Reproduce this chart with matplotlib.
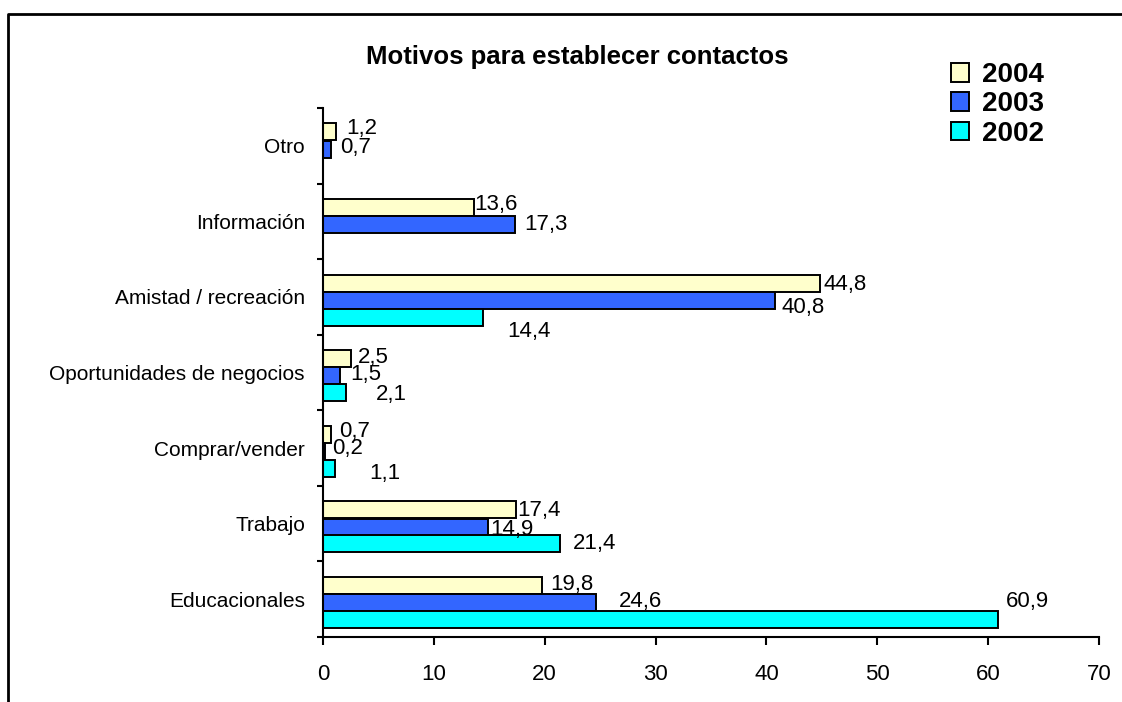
import numpy as np
import matplotlib
matplotlib.use('Agg')
import matplotlib.pyplot as plt
from matplotlib.lines import Line2D

plt.rcParams['font.family'] = ['Liberation Sans', 'DejaVu Sans']

# data (bottom to top, as drawn)
categories = ['Educacionales', 'Trabajo', 'Comprar/vender',
              'Oportunidades de negocios', 'Amistad / recreación',
              'Información', 'Otro']
years = ['2004', '2003', '2002']
v2004 = [19.8, 17.4, 0.7, 2.5, 44.8, 13.6, 1.2]
v2003 = [24.6, 14.9, 0.2, 1.5, 40.8, 17.3, 0.7]
v2002 = [60.9, 21.4, 1.1, 2.1, 14.4, None, None]
xticks = [0, 10, 20, 30, 40, 50, 60, 70]

colors = {'2004': '#FFFFCC', '2003': '#3366FF', '2002': '#00FFFF'}
offsets = {'2004': 0.183, '2003': -0.045, '2002': -0.268}
bar_h = 0.225

# label nudges in pixels (dx from bar end, dy up), excel put them a bit everywhere
nudge = {
    '2004': [(8, 1), (1, -1), (8, 3), (7, 1.5), (4, -1), (0, 3.5), (10, 3)],
    '2003': [(23, 1), (2, -2), (7, 3), (11, 1.5), (6, -7.5), (9, 0), (9, 2)],
    '2002': [(8, 17.5), (13, 0), (34, -5), (30, -2), (25, -14.5), (0, 0), (0, 0)],
}

fig = plt.figure(figsize=(11.22, 7.02), dpi=100)
W, H = 1122, 702
ax = fig.add_axes([323 / W, 1 - 637 / H, (1099 - 323) / W, (637 - 108) / H])

y = np.arange(len(categories))
series = {'2004': v2004, '2003': v2003, '2002': v2002}
handles = []
for yr in years:
    vals = series[yr]
    ys = [y[i] + offsets[yr] for i, v in enumerate(vals) if v is not None]
    xs = [v for v in vals if v is not None]
    b = ax.barh(ys, xs, height=bar_h, color=colors[yr], edgecolor='black',
                linewidth=1.4, label=yr)
    handles.append(b)
    for i, v in enumerate(vals):
        if v is None:
            continue
        dx, dy = nudge[yr][i]
        ax.annotate(f'{v:.1f}'.replace('.', ','), (v, y[i] + offsets[yr]),
                    xytext=(dx, dy), textcoords='offset pixels',
                    ha='left', va='center', fontsize=16)

ax.set_xlim(0, 70)
ax.set_ylim(-0.5, len(categories) - 0.5)
ax.set_xticks(xticks)
ax.set_xticklabels([str(t) for t in xticks])
ax.set_yticks(np.arange(-0.5, len(categories), 1.0))
ax.set_yticklabels([])
ax.set_yticks(y, minor=True)
ax.set_yticklabels(categories, minor=True)

ax.spines['top'].set_visible(False)
ax.spines['right'].set_visible(False)
ax.spines['left'].set_linewidth(1.5)
ax.spines['bottom'].set_linewidth(1.5)
ax.tick_params(axis='x', length=6, width=1.5, pad=13.5, labelsize=16)
ax.tick_params(axis='y', which='major', length=4.5, width=1.5)
ax.tick_params(axis='y', which='minor', length=0, pad=13, labelsize=15)

fig.text(577 / W, 1 - 64 / H, 'Motivos para establecer contactos',
         ha='center', va='baseline', fontsize=18.5, fontweight='bold')

fig.legend(handles=handles, labels=years, loc='upper left',
           bbox_to_anchor=(951 / W, 1 - 62 / H), frameon=False,
           prop={'size': 20, 'weight': 'bold'}, borderpad=0,
           labelspacing=0.12, handlelength=0.65, handleheight=0.65,
           handletextpad=0.45, borderaxespad=0)

# outer frame (top and left only)
fig.add_artist(Line2D([8 / W, 8 / W, 1], [0, 1 - 14 / H, 1 - 14 / H],
                      transform=fig.transFigure, color='black', linewidth=2))

fig.savefig('out.png', dpi=100)
